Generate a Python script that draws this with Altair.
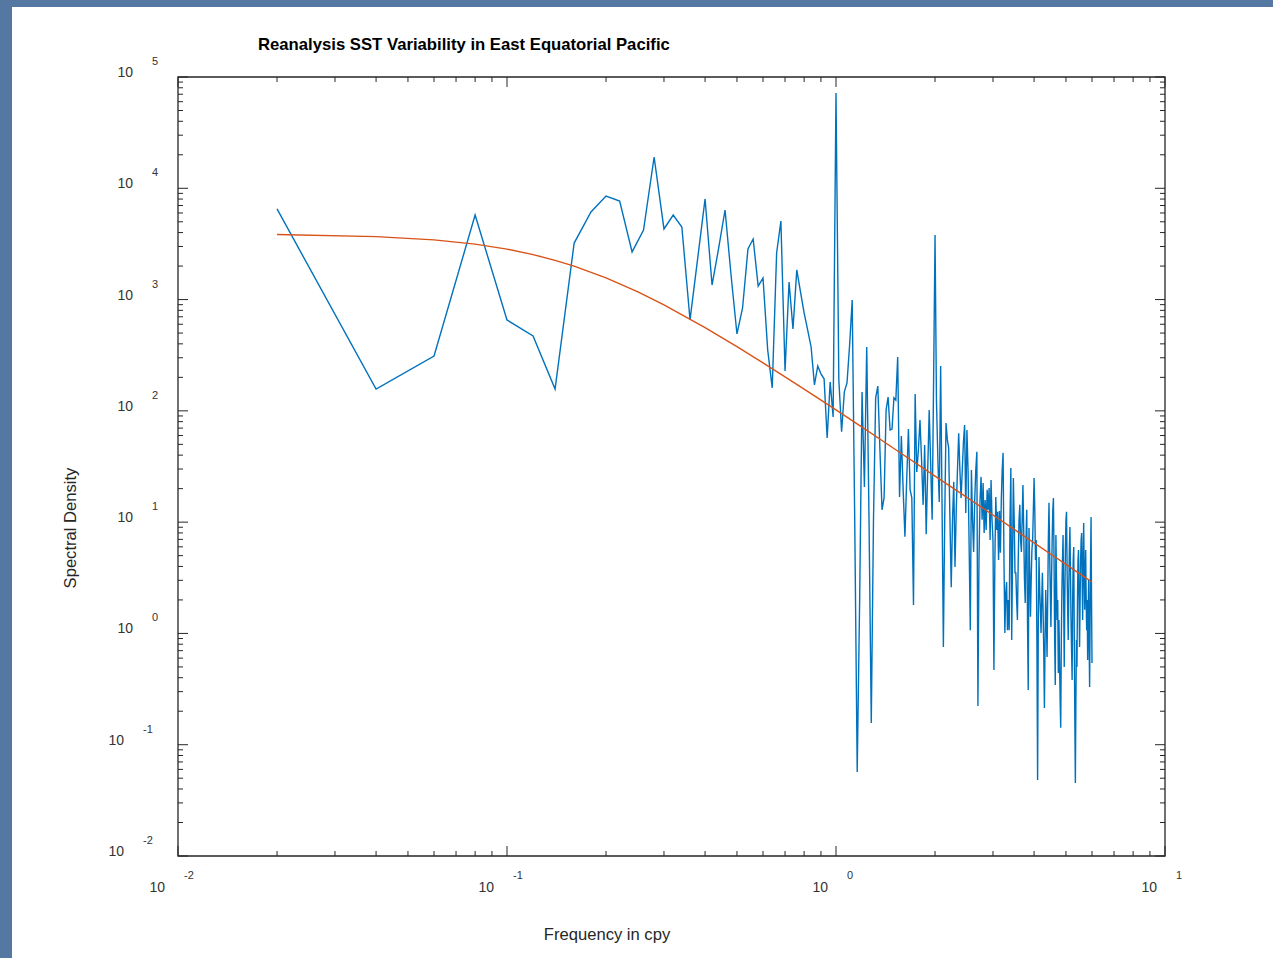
import altair as alt
import pandas as pd

# ---------------- data ----------------
# spectral estimate at frequencies 0.02, 0.04, ..., 6.00 cpy
spectrum = [
    6520, 157, 311, 5750, 656, 471, 157, 3220, 6120, 8530,
    7690, 2680, 4220, 19100, 4310, 5750, 4490, 656, 2370, 8020,
    1350, 2910, 6380, 1630, 491, 841, 2850, 3500, 1320, 1560,
    352, 161, 2620, 5080, 228, 1440, 545, 1850, 1170, 759,
    534, 375, 171, 253, 215, 194, 57, 182, 88, 71800,
    190, 65, 148, 178, 391, 991, 10.5, 0.057, 2.0, 148,
    20.7, 375, 10.5, 0.157, 10.5, 131, 167, 44.6, 12.9, 16.5,
    102, 133, 67.3, 68.7, 131, 125, 305, 16.8, 59.4, 19.5,
    7.4, 23.9, 68.7, 19.5, 16.5, 1.80, 142, 28.2, 44.6, 82.8,
    36.2, 14.3, 49.4, 7.8, 29.4, 102, 32.7, 10.5, 190, 3800,
    125, 36.2, 15.2, 253, 15.8, 0.757, 10.5, 77.8, 54.8, 46.5,
    10.5, 2.6, 10.5, 23.0, 3.96, 12.9, 29.4, 63, 29.4, 16.5,
    29.4, 52.6, 74.6, 12.1, 67.3, 29.4, 5.62, 1.07, 29.4, 10.5,
    5.40, 15.8, 29.4, 42.8, 0.223, 4.57, 15.8, 25.5, 10.5, 22.5,
    8.0, 15.8, 8.51, 19.5, 12.9, 20.3, 6.92, 23.9, 10.5, 6.92,
    0.47, 4.57, 16.8, 8.51, 12.4, 4.57, 12.6, 5.3, 15.8, 29.4,
    41.9, 4.57, 1.01, 2.31, 2.9, 1.07, 2.0, 1.07, 10.5, 30.7,
    0.875, 4.57, 24.9, 10.5, 3.50, 3.50, 2.00, 1.32, 4.57, 10.5,
    14.3, 6.92, 5.40, 10.5, 21.6, 8.51, 3.03, 1.88, 6.92, 12.9,
    1.32, 0.310, 8.87, 3.72, 1.41, 3.03, 5.62, 6.92, 12.9, 24.9,
    12.9, 4.57, 6.92, 0.875, 0.0483, 1.32, 4.86, 2.46, 1.63, 1.01,
    2.00, 3.50, 1.63, 0.711, 0.214, 0.875, 2.46, 1.32, 0.615, 2.00,
    6.92, 14.9, 5.62, 2.46, 1.14, 3.03, 6.92, 12.9, 16.5, 4.57,
    0.875, 0.344, 7.67, 3.03, 1.32, 2.00, 0.442, 1.32, 0.578, 0.252,
    0.142, 0.875, 2.46, 4.57, 7.67, 2.00, 0.500, 2.00, 5.62, 10.5,
    12.4, 3.72, 1.63, 0.875, 2.46, 5.62, 9.06, 3.72, 1.32, 0.711,
    0.382, 2.00, 4.57, 5.98, 0.875, 0.167, 0.0454, 0.252, 0.875, 0.500,
    2.00, 4.57, 5.62, 2.00, 0.757, 2.00, 4.57, 6.92, 8.0, 3.03,
    1.32, 4.57, 9.84, 3.72, 1.63, 3.03, 5.62, 2.00, 1.07, 2.00,
    0.578, 1.32, 3.03, 0.875, 0.330, 1.32, 4.57, 11.1, 2.00, 0.543,
]
frequency = [round(0.02 * k, 2) for k in range(1, len(spectrum) + 1)]

# fitted red-noise curve
fit_freq = [0.02, 0.04, 0.06, 0.08, 0.10, 0.12, 0.14, 0.16, 0.20, 0.25, 0.30,
            0.40, 0.50, 0.60, 0.70, 0.80, 1.00, 1.20, 1.50, 2.00, 2.50, 3.00,
            3.50, 4.00, 4.50, 5.00, 5.50, 6.00]
fit_spec = [3843, 3680, 3438, 3148, 2840, 2537, 2253, 1995, 1565, 1170, 895,
            560, 378, 270, 202, 157, 102, 71.3, 45.9, 25.9, 16.7, 11.6,
            8.52, 6.52, 5.15, 4.18, 3.45, 2.90]

x_exponents = [-2, -1, 0, 1]
y_exponents = [-2, -1, 0, 1, 2, 3, 4, 5]
minor_multipliers = [2, 3, 4, 5, 6, 7, 8, 9]

title_text = "Reanalysis SST Variability in East Equatorial Pacific"
x_title = "Frequency in cpy"
y_title = "Spectral Density"

# ---------------- tables ----------------
spec_df = pd.DataFrame({"f": frequency, "s": spectrum})
fit_df = pd.DataFrame({"f": fit_freq, "s": fit_spec})

x_major = pd.DataFrame({"t": [10.0 ** e for e in x_exponents]})
x_minor = pd.DataFrame({"t": [m * 10.0 ** e for e in x_exponents[:-1] for m in minor_multipliers]})
y_major = pd.DataFrame({"t": [10.0 ** e for e in y_exponents]})
y_minor = pd.DataFrame({"t": [m * 10.0 ** e for e in y_exponents[:-1] for m in minor_multipliers]})

x_lab = pd.DataFrame({"t": [10.0 ** e for e in x_exponents],
                      "base": ["10"] * len(x_exponents),
                      "exp": [str(e) for e in x_exponents],
                      "neg": [e < 0 for e in x_exponents]})
y_lab = pd.DataFrame({"t": [10.0 ** e for e in y_exponents],
                      "base": ["10"] * len(y_exponents),
                      "exp": [str(e) for e in y_exponents],
                      "neg": [e < 0 for e in y_exponents]})

# ---------------- layout ----------------
W, H = 987, 779
LEFT, TOP = 178, 77
TOTAL_W, TOTAL_H = 1273, 958
FONT = "Liberation Sans"
AXC = "#262626"
MAJ, MIN = 10, 5

xs = alt.Scale(type="log", domain=[0.01, 10])
ys = alt.Scale(type="log", domain=[0.01, 100000])

panel = alt.Chart(pd.DataFrame({"a": [0]})).mark_rect(color="white").encode(
    x=alt.value(12 - LEFT), x2=alt.value(TOTAL_W - LEFT),
    y=alt.value(7 - TOP), y2=alt.value(TOTAL_H - TOP))

blue = alt.Chart(spec_df).mark_line(color="#0072BD", strokeWidth=1.4, clip=True).encode(
    x=alt.X("f:Q", scale=xs, axis=None),
    y=alt.Y("s:Q", scale=ys, axis=None))

red = alt.Chart(fit_df).mark_line(color="#D95319", strokeWidth=1.4, clip=True).encode(
    x=alt.X("f:Q", scale=xs, axis=None),
    y=alt.Y("s:Q", scale=ys, axis=None))


def xticks(df, length):
    bot = alt.Chart(df).mark_rule(color=AXC, strokeWidth=1).encode(
        x=alt.X("t:Q", scale=xs, axis=None), y=alt.value(H), y2=alt.value(H - length))
    top = alt.Chart(df).mark_rule(color=AXC, strokeWidth=1).encode(
        x=alt.X("t:Q", scale=xs, axis=None), y=alt.value(0), y2=alt.value(length))
    return [bot, top]


def yticks(df, length):
    lft = alt.Chart(df).mark_rule(color=AXC, strokeWidth=1).encode(
        y=alt.Y("t:Q", scale=ys, axis=None), x=alt.value(0), x2=alt.value(length))
    rgt = alt.Chart(df).mark_rule(color=AXC, strokeWidth=1).encode(
        y=alt.Y("t:Q", scale=ys, axis=None), x=alt.value(W), x2=alt.value(W - length))
    return [lft, rgt]


ticks = xticks(x_major, MAJ) + xticks(x_minor, MIN) + yticks(y_major, MAJ) + yticks(y_minor, MIN)

frame = alt.Chart(pd.DataFrame({"a": [0]})).mark_rect(
    fill=None, stroke=AXC, strokeWidth=1.3).encode(
    x=alt.value(0), x2=alt.value(W), y=alt.value(0), y2=alt.value(H))

lab_style = dict(font=FONT, color="#333333", baseline="middle")

xl = []
for neg, dxb, dxe in [(True, -13, 6), (False, -8, 11)]:
    src = alt.Chart(x_lab).transform_filter(alt.datum.neg == neg)
    xl.append(src.mark_text(fontSize=14, align="right", dx=dxb, **lab_style).encode(
        x=alt.X("t:Q", scale=xs, axis=None), y=alt.value(H + 32), text="base:N"))
    xl.append(src.mark_text(fontSize=11, align="left", dx=dxe, **lab_style).encode(
        x=alt.X("t:Q", scale=xs, axis=None), y=alt.value(H + 20), text="exp:N"))

yl = []
for neg, xb, xe in [(True, -54, -35), (False, -45, -26)]:
    src = alt.Chart(y_lab).transform_filter(alt.datum.neg == neg)
    yl.append(src.mark_text(fontSize=14, align="right", dy=-4, **lab_style).encode(
        y=alt.Y("t:Q", scale=ys, axis=None), x=alt.value(xb), text="base:N"))
    yl.append(src.mark_text(fontSize=11, align="left", dy=-15, **lab_style).encode(
        y=alt.Y("t:Q", scale=ys, axis=None), x=alt.value(xe), text="exp:N"))

one = pd.DataFrame({"a": [0]})
title = alt.Chart(one).mark_text(font=FONT, fontSize=16.7, fontWeight="bold", color="black",
                                 align="left", baseline="middle", text=title_text).encode(
    x=alt.value(258 - LEFT), y=alt.value(45 - TOP))
xt = alt.Chart(one).mark_text(font=FONT, fontSize=16.6, color="#262626",
                              align="center", baseline="middle", text=x_title).encode(
    x=alt.value(607 - LEFT), y=alt.value(935 - TOP))
yt = alt.Chart(one).mark_text(font=FONT, fontSize=16.6, color="#262626", angle=270,
                              align="center", baseline="middle", text=y_title).encode(
    x=alt.value(71 - LEFT), y=alt.value(528 - TOP))

chart = alt.layer(panel, blue, red, *ticks, frame, *xl, *yl, title, xt, yt).properties(
    width=W, height=H,
    background="#5578a2",
    padding={"left": LEFT, "top": TOP, "right": TOTAL_W - LEFT - W, "bottom": TOTAL_H - TOP - H},
    autosize=alt.AutoSizeParams(type="none"),
).configure_view(stroke=None)

chart.save("out.html", embed_options={"renderer": "svg", "actions": False})
